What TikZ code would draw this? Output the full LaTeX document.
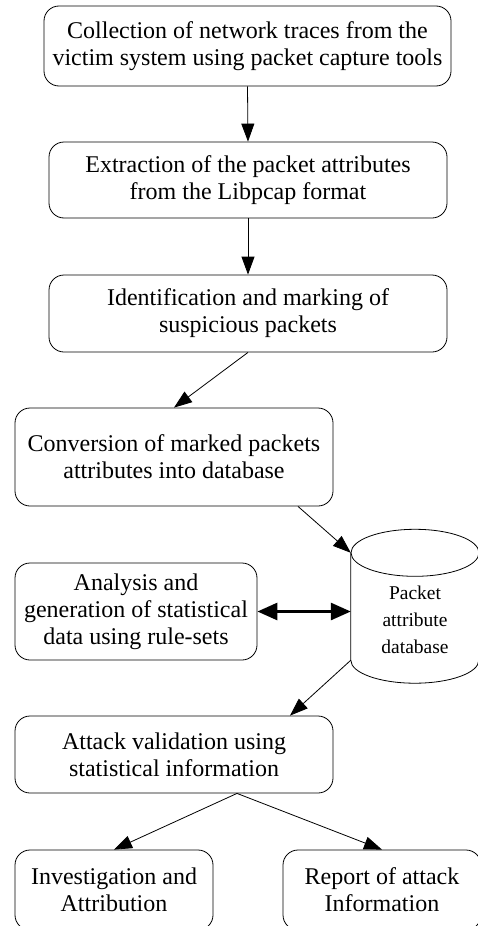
\documentclass[tikz,border=0pt]{standalone}
\usepackage{fontspec}
\setmainfont{Liberation Serif}
\usetikzlibrary{arrows.meta}

\begin{document}
\begin{tikzpicture}[x=1pt, y=-1pt,
    stepbox/.style={draw, rounded corners=15pt, align=center, line width=0.8pt,
      font=\fontsize{24}{27}\selectfont, inner sep=0pt},
    dbtext/.style={align=center, font=\fontsize{19.5}{27}\selectfont},
    arr/.style={-{Triangle[length=18pt, width=13pt]}, line width=0.8pt},
    dblarr/.style={{Triangle[length=20pt, width=17pt]}-{Triangle[length=20pt, width=17pt]}, line width=2.8pt}]
  \useasboundingbox (0,0) rectangle (478,926);
  % Process steps
  \node[stepbox, minimum width=407pt, minimum height=80pt] (collect) at (247.5,46)
    {Collection of network traces from the\\victim system using packet capture tools};
  \node[stepbox, minimum width=398pt, minimum height=76pt] (extract) at (248,180)
    {Extraction of the packet attributes\\from the Libpcap format};
  \node[stepbox, minimum width=398pt, minimum height=77pt] (mark) at (248,313.5)
    {Identification and marking of\\suspicious packets};
  \node[stepbox, minimum width=318pt, minimum height=98pt] (convert) at (174,457)
    {Conversion of marked packets\\attributes into database};
  \node[stepbox, minimum width=242pt, minimum height=97pt] (analysis) at (136,611.5)
    {Analysis and\\generation of statistical\\data using rule-sets};
  \node[stepbox, minimum width=318pt, minimum height=77pt] (validate) at (174,754.5)
    {Attack validation using\\statistical information};
  \node[stepbox, minimum width=198pt, minimum height=80pt] (investigate) at (114,890)
    {Investigation and\\Attribution};
  \node[stepbox, minimum width=198pt, minimum height=80pt] (report) at (382,890)
    {Report of attack\\Information};
  % Database cylinder
  \node[minimum width=128pt, minimum height=107pt, inner sep=0pt] (db) at (415,606.5) {};
  \draw[line width=0.8pt] (db.north) ellipse [x radius=64pt, y radius=23.5pt];
  \draw[line width=0.8pt] (db.north west) -- (db.south west)
    arc[start angle=180, end angle=360, x radius=64pt, y radius=23pt] -- (db.north east);
  \node[dbtext] (dblabel) at ([yshift=-13.5pt]db.center) {Packet\\attribute\\database};
  % Connectors
  \draw[arr] (collect.south) -- (extract.north);
  \draw[arr] (extract.south) -- (mark.north);
  \draw[arr] (mark.south) -- (convert.north);
  \draw[arr] ([xshift=124pt]convert.south) -- (db.north west);
  \draw[dblarr] (analysis.east) -- (analysis.east -| db.west);
  \draw[arr] (db.south west) -- ([xshift=116pt]validate.north);
  \draw[arr] ([xshift=63pt]validate.south) -- (investigate.north);
  \draw[arr] ([xshift=63pt]validate.south) -- (report.north);
\end{tikzpicture}
\end{document}
